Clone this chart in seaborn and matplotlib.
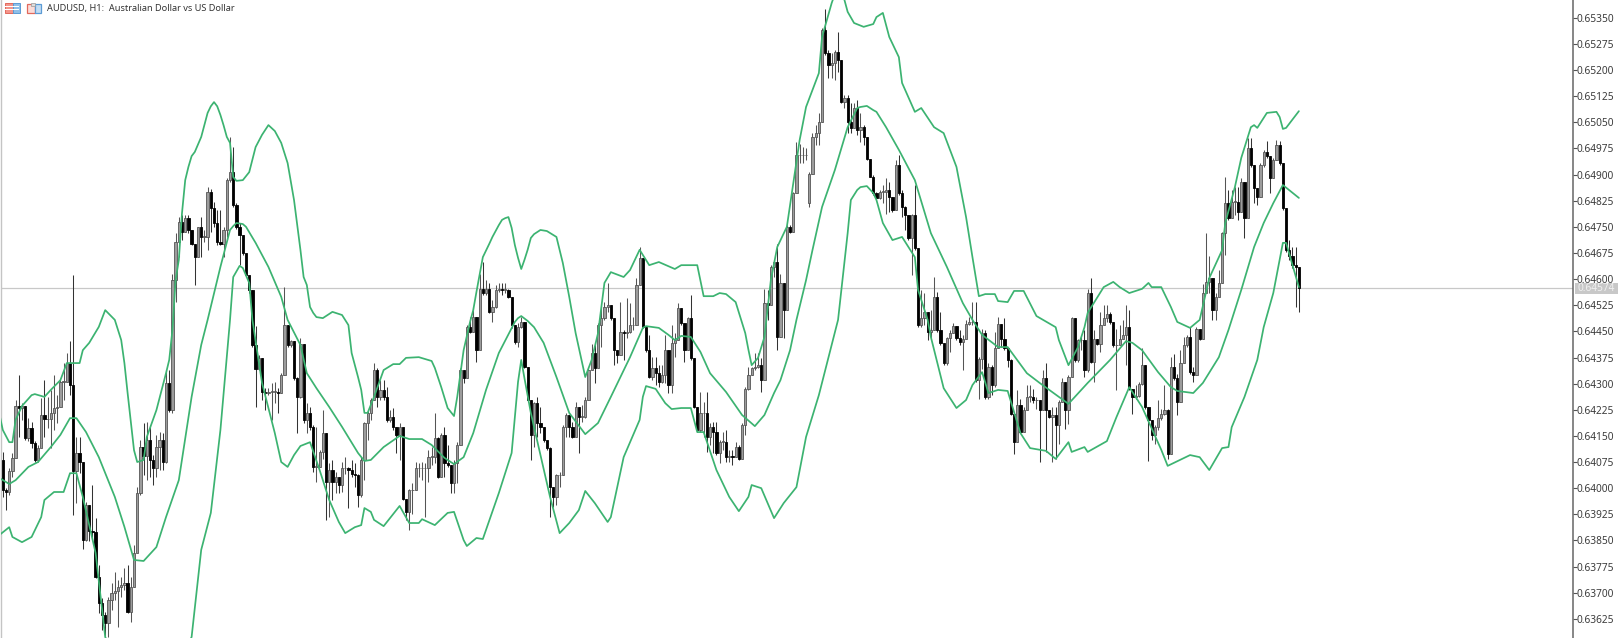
import numpy as np
import matplotlib
matplotlib.use("Agg")
import matplotlib.pyplot as plt
from matplotlib.patches import Rectangle
import seaborn as sns

title_text = "AUDUSD, H1:  Australian Dollar vs US Dollar"
last_price = 64574
first_open = 64081
gap_bars = [252]
gap_opens = [64817]

closes = [
63995,63990,64048,64086,64236,64229,64236,64143,64172,64129,
64081,64115,64210,64198,64198,64215,64229,64234,64306,64306,
64359,64296,64048,64100,64076,63851,63952,63878,63875,63746,
63670,63636,63612,63679,63698,63706,63717,63722,63727,63646,
63717,63813,63985,64119,64091,64138,64081,64057,64119,64138,
64076,64301,64225,64597,64707,64765,64736,64774,64741,64702,
64664,64750,64722,64722,64851,64803,64760,64707,64702,64741,
64884,64908,64812,64750,64726,64674,64611,64568,64410,64341,
64373,64277,64272,64277,64277,64277,64274,64325,64469,64411,
64421,64316,64263,64415,64195,64215,64176,64061,64061,64104,
64157,64018,64052,64018,64033,64009,64057,64057,64052,64042,
64037,63980,64081,64186,64215,64253,64339,64262,64282,64262,
64195,64205,64176,64152,64176,63970,63932,63994,63994,64057,
64057,64057,64057,64090,64090,64143,64033,64152,64071,64066,
64014,64071,64124,64339,64315,64463,64449,64492,64396,64573,
64559,64573,64506,64521,64569,64573,64569,64569,64549,64468,
64420,64463,64478,64349,64253,64152,64243,64186,64176,64138,
64114,64004,63975,64037,64037,64176,64210,64176,64148,64234,
64205,64205,64253,64339,64387,64344,64468,64487,64521,64526,
64487,64396,64382,64449,64444,64449,64468,64468,64583,64660,
64463,64396,64320,64344,64331,64306,64325,64396,64296,64416,
64425,64516,64473,64396,64487,64373,64234,64167,64215,64215,
64148,64176,64162,64100,64133,64133,64090,64092,64090,64119,
64085,64181,64286,64325,64344,64349,64353,64310,64530,64525,
64635,64650,64434,64588,64511,64750,64736,64846,64956,64956,
64956,64956,64903,65009,65018,65052,65315,65248,65214,65219,
65253,65229,65109,65119,65052,65033,65090,65028,65037,65009,
64944,64894,64846,64832,64851,64851,64855,64836,64798,64927,
64846,64808,64784,64717,64784,64688,64468,64487,64507,64449,
64454,64550,64454,64416,64358,64430,64444,64465,64430,64420,
64429,64472,64477,64477,64310,64372,64444,64262,64348,64295,
64401,64472,64429,64401,64367,64214,64133,64238,64161,64224,
64262,64262,64252,64252,64224,64315,64224,64205,64209,64181,
64248,64305,64224,64319,64487,64367,64425,64425,64338,64559,
64362,64429,64415,64468,64487,64501,64477,64410,64410,64429,
64439,64463,64286,64262,64264,64300,64353,64233,64195,64152,
64176,64200,64214,64224,64099,64348,64315,64248,64358,64410,
64434,64334,64324,64458,64429,64559,64593,64602,64511,64550,
64588,64731,64818,64775,64822,64822,64794,64880,64775,64976,
64928,64861,64837,64928,64966,64952,64889,64942,64985,64932,
64803,64684,64665,64641,64636,64574]

highs = [
64105,64000,64057,64100,64253,64325,64244,64236,64201,64191,
64134,64124,64258,64311,64263,64282,64325,64268,64311,64359,
64387,64421,64612,64148,64148,64076,63961,63952,64009,63914,
63780,63684,63646,63689,63727,63760,63737,63746,63770,63780,
63746,63837,64004,64138,64186,64191,64182,64095,64153,64162,
64158,64339,64339,64616,64731,64779,64784,64784,64784,64741,
64702,64750,64779,64741,64865,64860,64822,64798,64798,64750,
64889,65009,64980,64817,64760,64726,64669,64597,64568,64464,
64383,64373,64287,64287,64301,64306,64287,64330,64578,64469,
64426,64421,64320,64430,64415,64243,64234,64181,64176,64109,
64224,64157,64071,64081,64047,64033,64076,64090,64061,64081,
64071,64042,64090,64191,64224,64258,64358,64344,64310,64310,
64291,64224,64229,64176,64186,64171,63970,63999,64014,64076,
64071,64076,64071,64109,64119,64215,64148,64157,64176,64124,
64066,64081,64133,64344,64339,64468,64492,64521,64492,64616,
64650,64597,64588,64540,64583,64588,64588,64588,64573,64549,
64468,64473,64492,64478,64349,64253,64248,64262,64234,64176,
64133,64119,64004,64042,64047,64181,64215,64210,64191,64248,
64234,64239,64262,64349,64415,64420,64473,64521,64535,64588,
64526,64487,64396,64535,64454,64545,64530,64492,64602,64693,
64660,64463,64440,64377,64377,64353,64353,64440,64396,64468,
64444,64530,64516,64473,64492,64554,64373,64234,64277,64248,
64277,64186,64191,64191,64138,64162,64167,64109,64109,64133,
64124,64186,64291,64349,64349,64387,64387,64373,64573,64568,
64640,64655,64702,64616,64588,64755,64755,64851,64994,64989,
64980,64975,64908,65018,65042,65076,65320,65374,65257,65248,
65257,65308,65229,65128,65128,65104,65104,65114,65076,65042,
65009,64946,64899,64851,64855,64870,64889,64879,64836,64942,
64956,64855,64810,64784,64788,64870,64688,64568,64559,64507,
64511,64607,64564,64507,64416,64435,64454,64473,64465,64454,
64439,64482,64492,64535,64535,64377,64458,64453,64358,64353,
64449,64492,64472,64487,64401,64372,64214,64281,64257,64233,
64295,64295,64286,64262,64252,64338,64358,64224,64233,64233,
64252,64315,64305,64324,64492,64487,64429,64434,64453,64573,
64602,64453,64429,64506,64525,64525,64506,64477,64458,64468,
64482,64525,64511,64286,64295,64305,64401,64353,64233,64195,
64181,64252,64228,64295,64228,64377,64386,64329,64396,64434,
64439,64463,64348,64463,64458,64587,64731,64665,64574,64559,
64626,64736,64894,64856,64856,64865,64865,64889,64880,65004,
65004,64928,64861,64932,64971,64995,64952,64947,65000,64995,
64932,64803,64712,64693,64693,64636]

lows = [
63976,63938,63981,64033,64086,64148,64196,64138,64134,64115,
64076,64076,64143,64148,64172,64115,64167,64186,64234,64253,
64306,64268,63923,63957,64043,63825,63847,63847,63861,63741,
63641,63593,63574,63574,63650,63679,63603,63689,63708,63641,
63617,63717,63818,63981,64038,64024,64033,64009,64033,64052,
64052,64071,64220,64215,64535,64664,64712,64736,64731,64698,
64583,64664,64664,64707,64683,64736,64750,64698,64698,64664,
64722,64879,64808,64745,64640,64669,64607,64559,64406,64234,
64339,64253,64225,64268,64196,64244,64215,64272,64325,64406,
64406,64311,64158,64258,64186,64157,64167,64047,64018,64061,
64085,63908,63918,63966,63985,63985,63990,64042,63942,64033,
64004,63947,63975,64023,64138,64195,64253,64234,64253,64253,
64191,64191,64167,64100,64081,63966,63908,63880,63927,63994,
64033,64023,63918,64018,64066,64071,64028,64047,64033,64061,
63985,63985,64014,64124,64301,64315,64444,64449,64363,64454,
64554,64554,64502,64478,64516,64564,64554,64559,64545,64459,
64415,64406,64459,64344,64248,64081,64119,64148,64157,64133,
64109,63918,63947,63951,64004,64037,64148,64148,64143,64157,
64100,64191,64200,64253,64339,64301,64387,64406,64482,64506,
64482,64353,64358,64382,64368,64430,64444,64454,64468,64583,
64459,64392,64315,64310,64296,64291,64301,64301,64272,64272,
64377,64425,64468,64363,64396,64368,64229,64162,64162,64148,
64105,64124,64100,64095,64071,64109,64076,64076,64066,64090,
64081,64085,64152,64282,64325,64339,64344,64277,64310,64482,
64540,64607,64396,64434,64430,64511,64731,64736,64875,64932,
64932,64942,64808,64903,64985,64985,65052,65243,65176,65176,
65171,65195,65104,65090,65018,65018,65033,65013,64994,64985,
64942,64892,64841,64827,64830,64817,64788,64793,64793,64798,
64841,64779,64741,64712,64611,64683,64463,64463,64468,64425,
64430,64454,64449,64411,64353,64353,64392,64444,64425,64411,
64338,64429,64468,64468,64305,64257,64343,64257,64257,64267,
64291,64401,64405,64396,64348,64209,64099,64133,64157,64161,
64224,64248,64243,64228,64075,64224,64104,64200,64075,64085,
64128,64248,64171,64185,64319,64362,64362,64396,64319,64334,
64358,64305,64410,64391,64468,64477,64472,64405,64281,64410,
64429,64353,64281,64214,64257,64262,64295,64228,64078,64137,
64128,64166,64195,64209,64085,64099,64310,64209,64248,64358,
64405,64329,64305,64324,64425,64429,64569,64559,64483,64483,
64550,64588,64669,64770,64775,64784,64770,64794,64717,64784,
64923,64818,64813,64837,64923,64947,64846,64889,64942,64928,
64798,64679,64655,64631,64521,64507]

upper_bar = [-1,0,2,3,4,6,9,10,13,15,18,20,24,25,27,30,32,35,37,38,39,41,42,44,45,48,51,52,53,54,55,56,57,58,59,60,62,64,65,66,67,68,69,70,71,72,73,75,77,79,81,83,85,87,89,91,92,93,94,95,96,97,98,100,103,106,108,109,111,112,113,114,116,119,122,124,126,130,134,135,137,139,141,142,144,146,147,148,150,152,153,155,156,157,158,159,160,161,162,163,164,165,166,168,170,173,174,175,177,179,182,184,186,188,190,194,196,199,202,205,210,212,217,219,222,224,226,229,232,233,234,236,238,240,242,245,249,251,255,256,259,261,263,264,266,269,272,273,275,277,280,281,285,287,291,294,298,301,303,305,307,310,311,314,316,319,323,329,330,333,336,338,339,344,347,349,352,356,358,359,362,365,367,371,374,377,381,382,385,387,390,391,392,395,398,399,400,401,405]
upper_pts = [64210,64167,64132,64132,64196,64236,64267,64270,64262,64282,64310,64359,64359,64396,64417,64463,64511,64483,64425,64359,64273,64109,64075,64081,64147,64224,64330,64368,64454,64597,64655,64790,64884,64922,64953,64965,65008,65077,65096,65108,65096,65071,65041,65008,64991,64893,64882,64884,64907,64979,65014,65042,65025,64991,64933,64827,64755,64684,64606,64583,64520,64503,64491,64488,64506,64497,64468,64388,64319,64282,64216,64216,64262,64339,64356,64356,64374,64376,64365,64345,64290,64230,64207,64262,64396,64477,64511,64563,64663,64701,64721,64755,64770,64775,64778,64747,64698,64661,64629,64655,64684,64718,64729,64741,64738,64721,64684,64646,64549,64445,64319,64368,64445,64589,64620,64606,64626,64684,64640,64649,64629,64640,64640,64551,64551,64560,64557,64534,64445,64397,64353,64374,64434,64597,64692,64750,64999,65094,65191,65295,65392,65444,65401,65367,65335,65324,65332,65352,65364,65295,65237,65163,65080,65091,65036,65019,64922,64778,64663,64551,64557,64557,64537,64534,64566,64566,64494,64462,64425,64353,64405,64462,64503,64577,64592,64577,64560,64572,64589,64577,64577,64520,64477,64460,64483,64603,64683,64761,64864,64948,65036,65042,65034,65077,65080,65065,65031,65034,65082]

middle_bar = [-1,2,4,8,11,15,18,21,23,26,30,35,38,41,44,48,51,55,59,62,64,68,71,72,73,75,76,79,83,87,89,93,95,98,102,106,111,113,115,119,124,127,131,134,138,141,144,147,151,155,160,161,162,164,166,169,173,177,182,186,190,196,200,201,205,208,210,212,215,218,221,226,231,235,238,241,243,246,248,251,253,256,260,264,267,268,270,272,273,276,280,285,290,295,300,303,306,311,314,320,324,333,339,346,351,353,356,361,365,367,372,375,380,383,387,391,394,397,400,405]
middle_pts = [64029,64012,64023,64061,64075,64118,64153,64201,64201,64161,64089,63975,63889,63794,63791,63831,63917,64023,64262,64411,64483,64635,64741,64752,64761,64758,64750,64704,64635,64549,64483,64411,64330,64287,64233,64176,64101,64078,64081,64118,64150,64141,64141,64124,64087,64069,64089,64158,64282,64388,64477,64488,64494,64480,64462,64417,64319,64216,64155,64187,64262,64376,64460,64465,64460,64440,64425,64437,64434,64391,64330,64276,64210,64178,64210,64273,64310,64396,64483,64597,64683,64807,64913,65036,65091,65094,65097,65085,65080,65036,64971,64884,64732,64635,64531,64483,64440,64405,64405,64330,64302,64242,64302,64368,64422,64417,64396,64333,64290,64279,64273,64302,64376,64454,64569,64692,64761,64818,64870,64833]

lower_bar = [-1,2,3,6,9,12,13,16,19,21,23,25,29,32,45,59,62,65,68,71,72,74,75,77,78,81,85,87,89,91,93,96,99,102,105,107,110,112,113,115,116,119,124,127,130,131,135,139,141,144,145,148,150,155,159,161,162,163,165,171,174,177,180,182,185,189,190,194,199,200,201,204,207,209,212,215,217,219,223,227,230,233,234,237,241,244,248,251,255,257,261,264,265,267,268,270,272,273,275,278,281,285,286,289,290,294,298,301,303,306,308,311,314,318,321,326,329,333,334,338,339,345,348,352,356,362,364,371,374,377,381,383,384,388,392,394,397,400,401,405]
lower_pts = [63866,63888,63860,63845,63860,63917,63966,63989,63989,64043,64043,63975,63814,63573,63300,63573,63823,63929,64167,64483,64606,64638,64632,64589,64483,64302,64158,64075,64061,64095,64121,64132,64052,63966,63903,63871,63888,63894,63943,63932,63909,63891,63949,63900,63900,63911,63894,63929,63932,63851,63834,63857,63854,63986,64101,64305,64368,64316,64216,63975,63871,63900,63937,63992,63957,63903,63917,64089,64196,64262,64293,64285,64244,64227,64230,64230,64161,64161,64052,63975,63934,63975,64009,64000,63914,63957,64003,64147,64267,64339,64483,64732,64827,64856,64864,64867,64847,64827,64761,64712,64721,64663,64569,64483,64434,64287,64230,64253,64296,64333,64273,64282,64279,64158,64115,64107,64084,64132,64104,64118,64104,64135,64204,64290,64233,64110,64064,64095,64089,64052,64115,64118,64175,64262,64368,64462,64560,64704,64704,64577]

tick_points = [63625,63700,63775,63850,63925,64000,64075,64150,64225,64300,64375,64450,64525,64600,64675,64750,64825,64900,64975,65050,65125,65200,65275,65350]

assert len(closes) == len(highs) == len(lows), (len(closes), len(highs), len(lows))

sns.set_theme(style="white")
plt.rcParams["font.family"] = ["Noto Sans", "DejaVu Sans"]

W, H = 1622, 638
fig = plt.figure(figsize=(W / 100, H / 100), dpi=100, facecolor="white")
ax = fig.add_axes([0.5 / W, 0, 1572 / W, 1])
ax.set_facecolor("white")
ax.set_xlim(-0.72, 490.5)
ax.set_ylim(0.63570, 0.65401)

c = np.array(closes) / 1e5
h = np.array(highs) / 1e5
l = np.array(lows) / 1e5
o = np.concatenate([[first_open / 1e5], c[:-1]])
for b, v in zip(gap_bars, gap_opens):
    o[b] = v / 1e5
bars = np.arange(len(c))
up = c >= o

ax.axhline(last_price / 1e5, color="#c8c8c8", lw=0.9, zorder=1)
ax.vlines(bars[up], l[up], h[up], color="#555555", lw=0.75, zorder=2)
ax.vlines(bars[~up], l[~up], h[~up], color="#333333", lw=0.75, zorder=2)
ax.bar(bars[up], np.maximum(c[up] - o[up], 0.000012), bottom=o[up], width=0.7,
       facecolor="#9c9c9c", edgecolor="#555555", linewidth=0.6, zorder=3)
ax.bar(bars[~up], np.minimum(c[~up] - o[~up], -0.000012), bottom=o[~up], width=0.7,
       facecolor="#000000", edgecolor="#000000", linewidth=0.6, zorder=3)

band_green = "#3cb371"
for bx, by in ((upper_bar, upper_pts), (middle_bar, middle_pts), (lower_bar, lower_pts)):
    assert len(bx) == len(by), (len(bx), len(by))
    sns.lineplot(x=bx, y=np.array(by) / 1e5, color=band_green, linewidth=1.25,
                 estimator=None, sort=False, ax=ax, zorder=4, legend=False,
                 solid_joinstyle="round")

ax.set_xticks([])
ax.set_xlabel("")
ax.set_ylabel("")
ax.yaxis.tick_right()
ax.set_yticks(np.array(tick_points) / 1e5)
ax.set_yticklabels([f"{t / 1e5:.5f}" for t in tick_points])
ax.tick_params(axis="y", which="major", right=True, length=2.6, width=0.8, pad=0.6,
               color="#555555", labelcolor="#3c3c3c", labelsize=7.3)
for s in ("top", "bottom"):
    ax.spines[s].set_visible(False)
ax.spines["left"].set_color("#c4c4c4")
ax.spines["left"].set_linewidth(1.0)
ax.spines["right"].set_color("#666666")
ax.spines["right"].set_linewidth(1.1)

fig.text(47 / W, 1 - 8.5 / H, title_text, fontsize=6.6, color="#333333", va="center", ha="left")


def px_rect(x, y, w, hh, **kw):
    fig.add_artist(Rectangle((x / W, 1 - (y + hh) / H), w / W, hh / H,
                             transform=fig.transFigure, **kw))


# toolbar-like icons
px_rect(4.5, 3, 8, 10, facecolor="#f4948a", edgecolor="#e2695c", lw=0.7)
px_rect(12.5, 3, 7, 10, facecolor="#8fbfe8", edgecolor="#5b9bd5", lw=0.7)
for yy in (6, 9):
    px_rect(5, yy, 14, 0.9, facecolor="#ffffff", edgecolor="none")
px_rect(26.5, 4, 8, 9, facecolor="#fbdcd8", edgecolor="#e2695c", lw=0.9)
px_rect(34.5, 4, 6.5, 9, facecolor="#c4ddf3", edgecolor="#5b9bd5", lw=0.9)
px_rect(31, 3, 4, 3, facecolor="#dddddd", edgecolor="#999999", lw=0.5)

# last price tag
px_rect(1574.5, 283, 43, 11, facecolor="#c8c8c8", edgecolor="none", zorder=5)
fig.text(1577 / W, 1 - 288.5 / H, f"{last_price / 1e5:.5f}", fontsize=7.3, color="#f0f0f0",
         va="center", ha="left", zorder=6)

fig.savefig("out.png", dpi=100, facecolor="white")
